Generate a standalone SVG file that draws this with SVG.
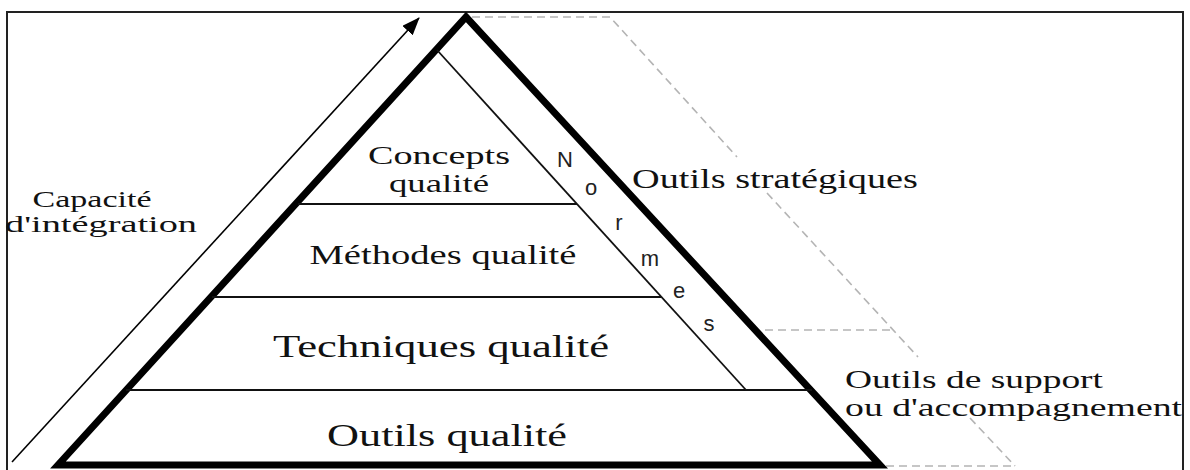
<svg xmlns="http://www.w3.org/2000/svg" width="1190" height="470" viewBox="0 0 1190 470">
<defs>
<marker id="ah" markerWidth="18" markerHeight="14" refX="17" refY="7" orient="auto" markerUnits="userSpaceOnUse" viewBox="0 0 18 14">
<path d="M0,0 L18,7 L0,14 z" fill="#000"/>
</marker>
<style>
.serif{font-family:"Liberation Serif","Times New Roman",serif;fill:#111;}
.sans{font-family:"Liberation Sans",Arial,sans-serif;fill:#222;font-size:22px;}
.thin{stroke:#111;stroke-width:1.8;fill:none;}
.dash{stroke:#b4b4b4;stroke-width:1.6;stroke-dasharray:8,5;fill:none;}
</style>
</defs>
<rect x="0" y="0" width="1190" height="470" fill="#fff"/>
<rect id="frame" x="7" y="12" width="1176" height="464" fill="none" stroke="#222" stroke-width="2"/>

<g id="connectors">
<path class="dash" d="M472,17 H610 L737,157"/>
<path class="dash" d="M767,193 L918,357"/>
<path class="dash" d="M765,330 H893"/>
<path class="dash" d="M970,418 L1015,466"/>
<path class="dash" d="M886,466 H1015"/>
<line x1="12" y1="462" x2="419" y2="18" stroke="#000" stroke-width="1.6" marker-end="url(#ah)"/>
</g>

<g id="pyramid">
<polygon points="466,17 880,465 58,465" fill="#fff" stroke="#000" stroke-width="7" stroke-linejoin="miter"/>
<line class="thin" x1="437" y1="50" x2="746" y2="390"/>
<line class="thin" x1="298" y1="204" x2="577" y2="204"/>
<line class="thin" x1="212" y1="297" x2="661" y2="297"/>
<line class="thin" x1="126" y1="390" x2="812" y2="390"/>
</g>

<g id="concepts">
<text class="serif" x="439" y="164" font-size="25" text-anchor="middle" textLength="142" lengthAdjust="spacingAndGlyphs">Concepts</text>
<text class="serif" x="439" y="192" font-size="25" text-anchor="middle" textLength="100" lengthAdjust="spacingAndGlyphs">qualité</text>
</g>
<g id="methodes">
<text class="serif" x="443" y="264" font-size="27" text-anchor="middle" textLength="267" lengthAdjust="spacingAndGlyphs">Méthodes qualité</text>
</g>
<g id="techniques">
<text class="serif" x="441" y="357" font-size="31" text-anchor="middle" textLength="336" lengthAdjust="spacingAndGlyphs">Techniques qualité</text>
</g>
<g id="outils">
<text class="serif" x="447" y="446" font-size="31" text-anchor="middle" textLength="240" lengthAdjust="spacingAndGlyphs">Outils qualité</text>
</g>
<g id="normes" class="sans">
<text x="565" y="167" text-anchor="middle">N</text>
<text x="591" y="195" text-anchor="middle">o</text>
<text x="619" y="230" text-anchor="middle">r</text>
<text x="650" y="266" text-anchor="middle">m</text>
<text x="679" y="298" text-anchor="middle">e</text>
<text x="709" y="331" text-anchor="middle">s</text>
</g>
<g id="capacite">
<text class="serif" x="92" y="207" font-size="23" text-anchor="middle" textLength="119" lengthAdjust="spacingAndGlyphs">Capacité</text>
<text class="serif" x="101" y="232" font-size="23" text-anchor="middle" textLength="192" lengthAdjust="spacingAndGlyphs">d'intégration</text>
</g>
<g id="strategiques">
<text class="serif" x="632" y="188" font-size="27" textLength="286" lengthAdjust="spacingAndGlyphs">Outils stratégiques</text>
</g>
<g id="support">
<text class="serif" x="845" y="388" font-size="25" textLength="258" lengthAdjust="spacingAndGlyphs">Outils de support</text>
<text class="serif" x="845" y="416" font-size="25" textLength="337" lengthAdjust="spacingAndGlyphs">ou d'accompagnement</text>
</g>
</svg>
